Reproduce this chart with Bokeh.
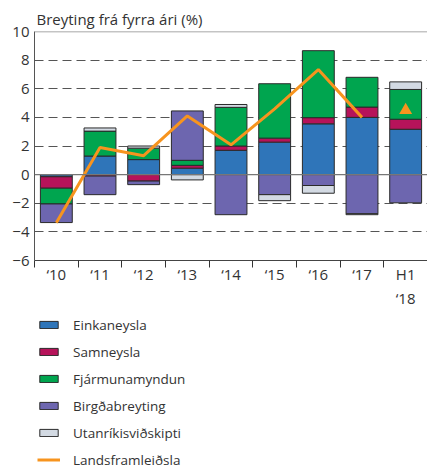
import numpy as np
from bokeh.plotting import figure
from bokeh.layouts import column
from bokeh.models import (Range1d, FixedTicker, Span, Legend, LegendItem, Title)
from bokeh.embed import file_html
from bokeh.resources import INLINE

categories = ["‘10", "‘11", "‘12", "‘13", "‘14", "‘15", "‘16", "‘17", "H1\n‘18"]
einkaneysla = [-0.15, 1.30, 1.05, 0.45, 1.70, 2.27, 3.55, 4.00, 3.17]
samneysla = [-0.80, -0.10, -0.45, 0.20, 0.30, 0.28, 0.43, 0.72, 0.70]
fjarmunamyndun = [-1.10, 1.74, 0.80, 0.35, 2.70, 3.80, 4.68, 2.08, 2.08]
birgdabreyting = [-1.30, -1.30, -0.25, 3.45, -2.80, -1.40, -0.76, -2.73, -1.97]
utanrikisvidskipti = [0.00, 0.22, 0.15, -0.37, 0.20, -0.42, -0.54, -0.07, 0.53]
landsframleidsla = [-3.36, 1.90, 1.32, 4.10, 2.08, 4.60, 7.34, 4.00]
landsframleidsla_h1 = [4.5]

names = ["Einkaneysla", "Samneysla", "Fjármunamyndun", "Birgðabreyting", "Utanríkisviðskipti"]
line_name = "Landsframleiðsla"
colors = ["#2F75B9", "#B6135A", "#00A54F", "#6D66AF", "#D3DAE3"]
series = [einkaneysla, samneysla, fjarmunamyndun, birgdabreyting, utanrikisvidskipti]

FONT = "Open Sans"
TXT = "#333333"
EDGE = "#2a2a2a"
ORANGE = "#F7941E"

n = len(categories)
xs = np.arange(n) + 0.5

p = figure(width=427, height=310, output_backend="svg", toolbar_location=None,
           x_range=Range1d(0, n), y_range=Range1d(-6, 10),
           min_border_left=34, min_border_right=0, min_border_top=31, min_border_bottom=45)
p.outline_line_color = None
p.background_fill_color = "white"
p.border_fill_color = "white"

p.title = Title(text="Breyting frá fyrra ári (%)", align="left", offset=2, standoff=5,
                text_font=FONT, text_font_size="15px", text_font_style="normal",
                text_color=TXT)

# grid
p.xgrid.visible = False
p.ygrid.ticker = FixedTicker(ticks=[-4, -2, 2, 4, 6, 8])
p.ygrid.grid_line_color = "#555555"
p.ygrid.grid_line_dash = "9 5"
p.ygrid.grid_line_width = 1

p.add_layout(Span(location=10, dimension="width", line_color="#8a8a8a", line_width=1.5))

# y axis
p.yaxis.ticker = FixedTicker(ticks=list(range(-6, 11, 2)))
p.yaxis.major_tick_out = 0
p.yaxis.major_tick_in = 0
p.yaxis.minor_tick_out = 0
p.yaxis.minor_tick_in = 0
p.yaxis.axis_line_color = "#555555"
p.yaxis.major_label_text_font = FONT
p.yaxis.major_label_text_font_size = "15px"
p.yaxis.major_label_text_color = TXT
p.yaxis.major_label_standoff = 5

# x axis
p.xaxis.ticker = FixedTicker(ticks=list(xs), minor_ticks=list(range(0, n + 1)))
p.xaxis.major_label_overrides = {float(x): c for x, c in zip(xs, categories)}
p.xaxis.major_tick_out = 0
p.xaxis.major_tick_in = 0
p.xaxis.minor_tick_out = 7
p.xaxis.minor_tick_in = 0
p.xaxis.minor_tick_line_color = "#333333"
p.xaxis.axis_line_color = "#444444"
p.xaxis.major_label_text_font = FONT
p.xaxis.major_label_text_font_size = "15px"
p.xaxis.major_label_text_color = TXT
p.xaxis.major_label_standoff = -4

# stacked bars
pos = np.zeros(n)
neg = np.zeros(n)
for name, col, vals in zip(names, colors, series):
    v = np.array(vals, dtype=float)
    bottom = np.where(v >= 0, pos, neg)
    top = bottom + v
    pos = np.where(v > 0, top, pos)
    neg = np.where(v < 0, top, neg)
    p.vbar(x=xs, bottom=bottom, top=top, width=0.73, fill_color=col,
           line_color=EDGE, line_width=1)

p.add_layout(Span(location=0, dimension="width", line_color="#777777", line_width=1.2))

p.line(x=xs[:len(landsframleidsla)], y=landsframleidsla, line_color=ORANGE, line_width=3)
p.scatter(x=xs[len(landsframleidsla):], y=landsframleidsla_h1, marker="triangle", size=13,
          fill_color=ORANGE, line_color=None)

# legend panel (swatch renderers sit outside the visible range; only the legend shows)
q = figure(width=427, height=162, output_backend="svg", toolbar_location=None,
           x_range=Range1d(0, 1), y_range=Range1d(0, 1),
           x_axis_location=None, y_axis_location=None,
           min_border_left=0, min_border_right=0, min_border_top=0, min_border_bottom=0)
q.outline_line_color = None
q.xgrid.visible = False
q.ygrid.visible = False
items = []
for name, col in zip(names, colors):
    r = q.vbar(x=[5], bottom=[5], top=[6], width=0.5, fill_color=col, line_color=EDGE, line_width=1)
    items.append(LegendItem(label=name, renderers=[r]))
lr = q.line(x=[5, 6], y=[5, 5], line_color=ORANGE, line_width=3)
items.append(LegendItem(label=line_name, renderers=[lr]))

legend = Legend(items=items, location=(3, 1), orientation="vertical",
                margin=0, padding=0, border_line_color=None, background_fill_alpha=0,
                glyph_width=23, glyph_height=9, label_standoff=13,
                label_height=23, spacing=4,
                label_text_font=FONT, label_text_font_size="13.5px", label_text_color=TXT)
q.add_layout(legend, "center")

layout = column(p, q, spacing=0)
open("out.html", "w").write(file_html(layout, INLINE))
